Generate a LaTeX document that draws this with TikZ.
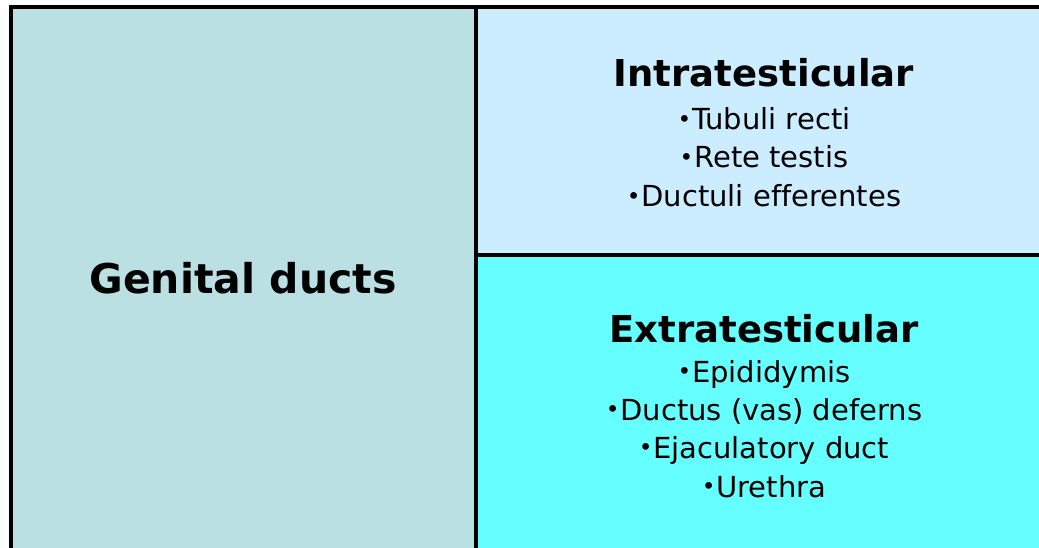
\documentclass[tikz,border=0pt]{standalone}
\usepackage{fontspec}
\setmainfont[Ligatures=NoCommon]{DejaVu Sans}
\usepackage{graphicx}
\definecolor{leftfill}{RGB}{187,224,227}
\definecolor{intrafill}{RGB}{204,236,255}
\definecolor{extrafill}{RGB}{102,255,255}
\newcommand{\bul}{\raisebox{0.08em}{\scalebox{0.8}{•}}\kern0.03em}
\tikzset{
  panel/.style={draw=black, line width=4pt},
  bigtitle/.style={anchor=base, inner sep=0pt, font=\bfseries\fontsize{41}{41}\selectfont},
  boxtitle/.style={anchor=base, inner sep=0pt, font=\bfseries\fontsize{37}{37}\selectfont},
  item/.style={anchor=base, inner sep=0pt, font=\fontsize{29}{29}\selectfont}
}
\begin{document}
\begin{tikzpicture}[x=1pt,y=-1pt]
\useasboundingbox (0,0) rectangle (1039,548);
\clip (0,0) rectangle (1039,548);
\fill[white] (0,0) rectangle (1039,548);
% panels
\filldraw[panel, fill=leftfill] (11,7) rectangle (476,560);
\filldraw[panel, fill=intrafill] (476,7) rectangle (1050,255);
\filldraw[panel, fill=extrafill] (476,255) rectangle (1050,560);
% texts
\node[bigtitle] (gd) at (243,293) {Genital ducts};
\node[boxtitle] (intra) at (764,87) {Intratesticular};
\node[item] (i1) at (764,130) {\bul Tubuli recti};
\node[item] (i2) at (764,168) {\bul Rete testis};
\node[item] (i3) at (764,207) {\bul Ductuli efferentes};
\node[boxtitle] (extra) at (764,342) {Extratesticular};
\node[item] (e1) at (764,382) {\bul Epididymis};
\node[item] (e2) at (764,420) {\bul Ductus (vas) deferns};
\node[item] (e3) at (764,458) {\bul Ejaculatory duct};
\node[item] (e4) at (764,497) {\bul Urethra};
\end{tikzpicture}
\end{document}
